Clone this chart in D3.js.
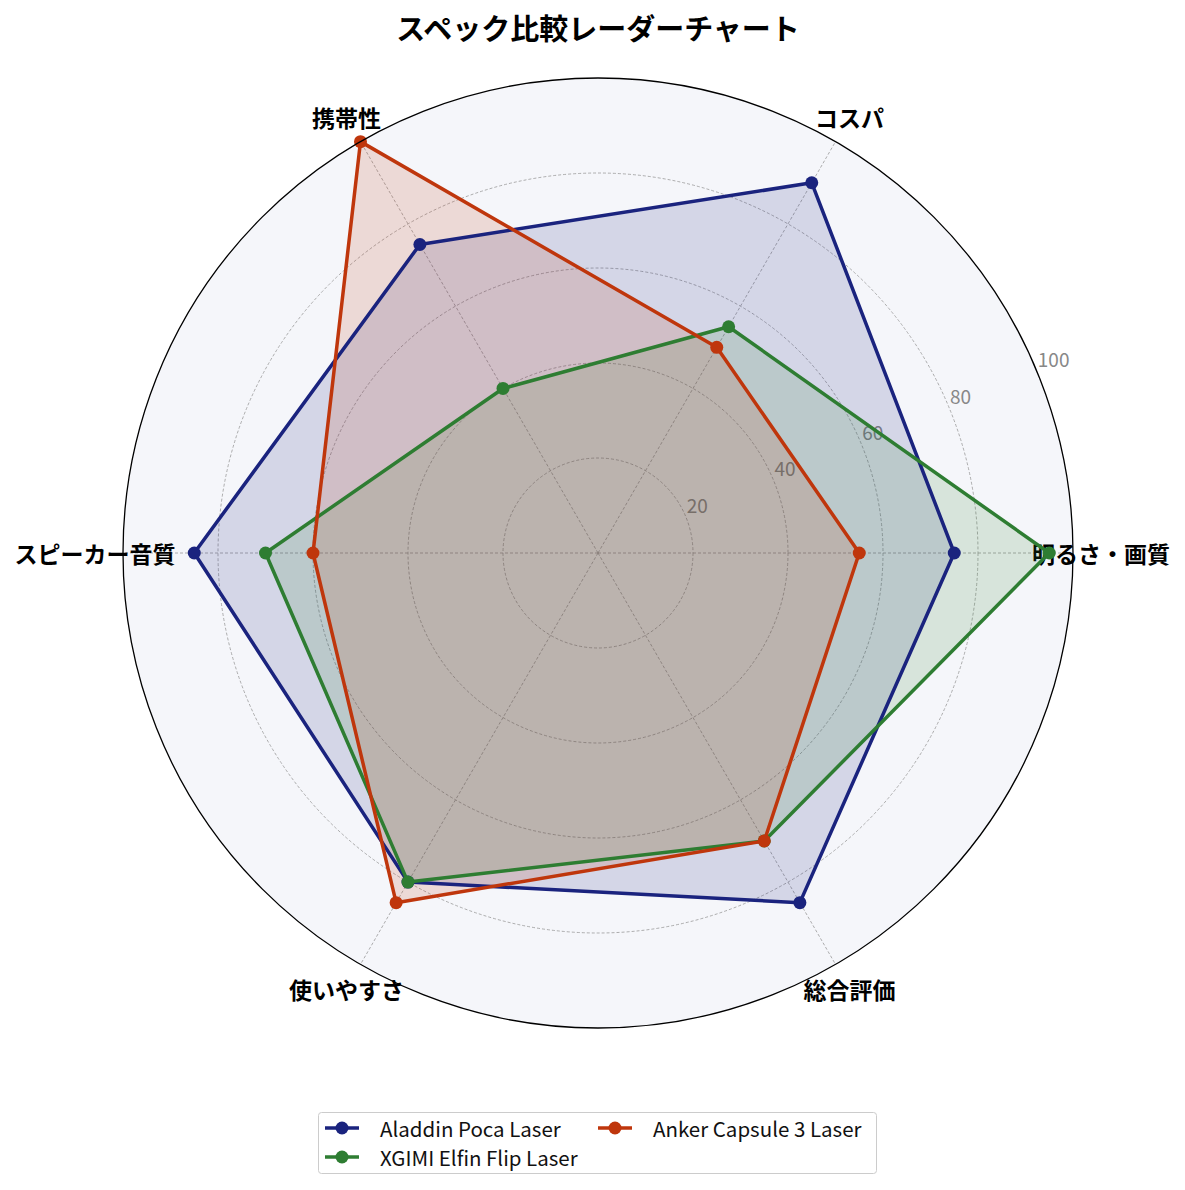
<!DOCTYPE html>
<html>
<head>
<meta charset="utf-8">
<script src="https://cdn.jsdelivr.net/npm/d3@7"></script>
<style>
  body { margin: 0; background: #fff; }
  text { font-family: "Noto Sans CJK JP", "Noto Sans", sans-serif; }
</style>
</head>
<body>
<div id="chart"></div>
<script>
// categories (counter-clockwise from the right, like the original)
var categories = ["明るさ・画質", "コスパ", "携帯性", "スピーカー音質", "使いやすさ", "総合評価"];
var seriesNames = ["Aladdin Poca Laser", "XGIMI Elfin Flip Laser", "Anker Capsule 3 Laser"];
var aladdinValues = [75, 90, 75, 85, 80, 85];
var xgimiValues = [95, 55, 40, 70, 80, 70];
var ankerValues = [55, 50, 100, 60, 85, 70];
var seriesColors = ["#1a237e", "#2e7d32", "#bf360c"];
var radialTicks = [20, 40, 60, 80, 100];

var W = 1185, H = 1190;
var cx = 598, cy = 553, R = 475;

var svg = d3.select("#chart").append("svg")
		.attr("width", W)
		.attr("height", H);

// radial scale: value -> pixel distance
var r = d3.scaleLinear().domain([0, 100]).range([0, R]);
// angle scale: category index -> radians (0 at the right, going counter-clockwise)
var a = d3.scaleLinear().domain([0, categories.length]).range([0, 2 * Math.PI]);

function px(i, v) { return cx + r(v) * Math.cos(a(i)); }
function py(i, v) { return cy - r(v) * Math.sin(a(i)); }

var g = svg.append("g");

// background disc
g.append("circle")
	.attr("cx", cx).attr("cy", cy).attr("r", R)
	.attr("fill", "#f5f6fa");

// grid circles
g.selectAll(".grid-circle")
	.data(radialTicks.slice(0, -1))
	.enter().append("circle")
		.attr("class", "grid-circle")
		.attr("cx", cx).attr("cy", cy)
		.attr("r", function(d) { return r(d); })
		.attr("fill", "none")
		.attr("stroke", "#999")
		.attr("stroke-width", 0.8)
		.attr("stroke-dasharray", "3,2");

// spokes
g.selectAll(".spoke")
	.data(categories)
	.enter().append("line")
		.attr("class", "spoke")
		.attr("x1", cx).attr("y1", cy)
		.attr("x2", function(d, i) { return px(i, 100); })
		.attr("y2", function(d, i) { return py(i, 100); })
		.attr("stroke", "#999")
		.attr("stroke-width", 0.8)
		.attr("stroke-dasharray", "3,2");

// category labels (under the series, the markers sit on top of them)
g.selectAll(".cat")
	.data(categories)
	.enter().append("text")
		.attr("class", "cat")
		.attr("x", function(d, i) { return cx + (R + 28) * Math.cos(a(i)); })
		.attr("y", function(d, i) { return cy - (R + 28) * Math.sin(a(i)); })
		.attr("text-anchor", "middle")
		.attr("dominant-baseline", "central")
		.attr("font-size", 23)
		.attr("font-weight", "bold")
		.attr("fill", "#000")
		.text(function(d) { return d; });

// radial tick labels at 22.5 deg
var labAng = 22.5 * Math.PI / 180;
g.selectAll(".rtick")
	.data(radialTicks)
	.enter().append("text")
		.attr("class", "rtick")
		.attr("x", function(d) { return cx + r(d) * Math.cos(labAng) + 1; })
		.attr("y", function(d) { return cy - r(d) * Math.sin(labAng) - 4; })
		.attr("font-size", 19)
		.attr("fill", "#888")
		.text(function(d) { return d; });

// series
var allValues = [aladdinValues, xgimiValues, ankerValues];
var line = d3.lineRadial()
		.angle(function(d, i) { return Math.PI / 2 - a(i); })
		.radius(function(d) { return r(d); })
		.curve(d3.curveLinearClosed);

allValues.forEach(function(vals, k) {
	var sg = g.append("g").attr("transform", "translate(" + cx + "," + cy + ")");
	sg.append("path")
		.datum(vals)
		.attr("d", line)
		.attr("fill", seriesColors[k])
		.attr("fill-opacity", 0.15)
		.attr("stroke", "none");
});

allValues.forEach(function(vals, k) {
	var sg = g.append("g").attr("transform", "translate(" + cx + "," + cy + ")");
	sg.append("path")
		.datum(vals)
		.attr("d", line)
		.attr("fill", "none")
		.attr("stroke", seriesColors[k])
		.attr("stroke-width", 3.5)
		.attr("stroke-linejoin", "round");
	g.selectAll(".dot-" + k)
		.data(vals)
		.enter().append("circle")
			.attr("class", "dot-" + k)
			.attr("cx", function(d, i) { return px(i, d); })
			.attr("cy", function(d, i) { return py(i, d); })
			.attr("r", 6.5)
			.attr("fill", seriesColors[k]);
});

// outer spine
g.append("circle")
	.attr("cx", cx).attr("cy", cy).attr("r", R)
	.attr("fill", "none")
	.attr("stroke", "#000")
	.attr("stroke-width", 1.3);

// title
svg.append("text")
	.attr("x", cx)
	.attr("y", 27)
	.attr("text-anchor", "middle")
	.attr("dominant-baseline", "central")
	.attr("font-size", 29)
	.attr("font-weight", "bold")
	.text("スペック比較レーダーチャート");

// legend
var legend = svg.append("g");
legend.append("rect")
	.attr("x", 318.5).attr("y", 1112.5)
	.attr("width", 558).attr("height", 61)
	.attr("rx", 3)
	.attr("fill", "#fff")
	.attr("stroke", "#ccc")
	.attr("stroke-width", 1);

var legPos = [[325, 1128], [325, 1157], [598, 1128]];
seriesNames.forEach(function(name, k) {
	var lx = legPos[k][0], ly = legPos[k][1];
	legend.append("line")
		.attr("x1", lx).attr("x2", lx + 34)
		.attr("y1", ly).attr("y2", ly)
		.attr("stroke", seriesColors[k])
		.attr("stroke-width", 3.5);
	legend.append("circle")
		.attr("cx", lx + 17).attr("cy", ly).attr("r", 6.5)
		.attr("fill", seriesColors[k]);
	legend.append("text")
		.attr("x", lx + 55).attr("y", ly)
		.attr("dominant-baseline", "central")
		.attr("font-size", 20.5)
		.attr("fill", "#111")
		.text(name);
});
</script>
</body>
</html>
